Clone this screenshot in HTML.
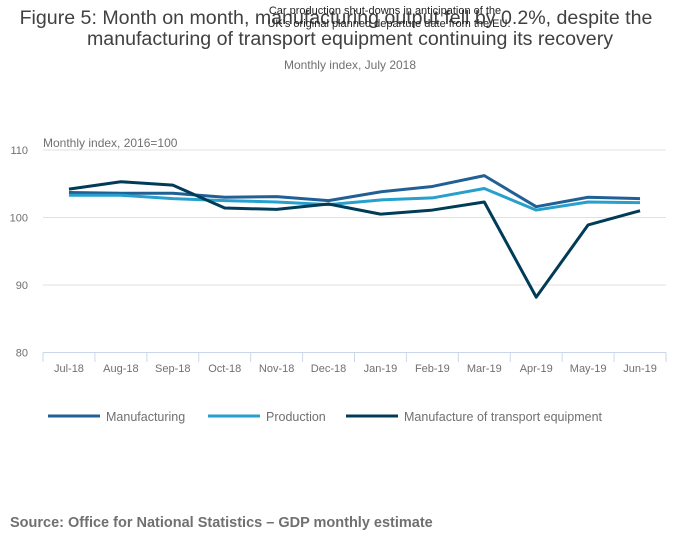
<!DOCTYPE html>
<html><head><meta charset="utf-8"><style>
body{margin:0;background:#fff;font-family:"Liberation Sans",sans-serif;}
svg text{font-family:"Liberation Sans",sans-serif;}
</style></head><body>
<svg width="700" height="549">
<text x="336" y="24" text-anchor="middle" font-size="19.6" fill="#414042">Figure 5: Month on month, manufacturing output fell by 0.2%, despite the</text>
<text x="350" y="45" text-anchor="middle" font-size="19.6" fill="#414042">manufacturing of transport equipment continuing its recovery</text>
<text x="350" y="69" text-anchor="middle" font-size="12" fill="#707070">Monthly index, July 2018</text>
<text x="385" y="14" text-anchor="middle" font-size="11" fill="#222">Car production shut-downs in anticipation of the</text>
<text x="389" y="27" text-anchor="middle" font-size="11" fill="#222">UK's original planned departure date from the EU.</text>
<text x="43" y="147" font-size="12" fill="#707070">Monthly index, 2016=100</text>
<g id="grid"></g><g id="xaxis"></g><g id="lines"></g>
<g>
<line x1="48" y1="416" x2="100" y2="416" stroke="#206095" stroke-width="3"/>
<text x="106" y="421" font-size="12.5" fill="#707070">Manufacturing</text>
<line x1="208" y1="416" x2="260" y2="416" stroke="#27a0cc" stroke-width="3"/>
<text x="266" y="421" font-size="12.5" fill="#707070">Production</text>
<line x1="346" y1="416" x2="398" y2="416" stroke="#003c57" stroke-width="3"/>
<text x="404" y="421" font-size="12.5" fill="#707070">Manufacture of transport equipment</text>
</g>
<text x="10" y="527" font-size="14.5" font-weight="bold" fill="#707070">Source: Office for National Statistics – GDP monthly estimate</text>
</svg>
<script>
const categories=["Jul-18","Aug-18","Sep-18","Oct-18","Nov-18","Dec-18","Jan-19","Feb-19","Mar-19","Apr-19","May-19","Jun-19"];
const manufacturing=[103.7,103.6,103.6,103.0,103.1,102.5,103.8,104.6,106.2,101.6,103.0,102.8];
const production=[103.3,103.3,102.8,102.5,102.3,101.9,102.6,102.9,104.3,101.1,102.3,102.2];
const transport=[104.2,105.3,104.8,101.4,101.2,102.0,100.5,101.1,102.3,88.2,98.9,101.0];
const yTicks=[80,90,100,110];
const NS="http://www.w3.org/2000/svg";
const x0=43,x1=666,bw=(x1-x0)/categories.length;
const xs=i=>x0+bw*(i+0.5);
const ys=v=>352.5-(v-80)*6.75;
function mk(t,a,p){const e=document.createElementNS(NS,t);for(const k in a)e.setAttribute(k,a[k]);p.appendChild(e);return e;}
const grid=document.getElementById('grid');
yTicks.forEach(v=>{
 if(v>80){const l=mk('line',{x1:x0,x2:x1,y1:ys(v),y2:ys(v),stroke:'#e0e0e0'},grid);
 
 }
 const t=mk('text',{x:28,y:ys(v)+4,'font-size':11,fill:'#707070','text-anchor':'end'},grid);
 t.textContent=v;
 
 
});
const xa=document.getElementById('xaxis');
mk('line',{x1:x0,x2:x1,y1:352.5,y2:352.5,stroke:'#ccd6eb'},xa);
categories.forEach((c,i)=>{
 const tk=mk('line',{x1:x0+bw*i,x2:x0+bw*i,y1:352.5,y2:362,stroke:'#ccd6eb'},xa);
 
 
 const t=mk('text',{x:xs(i),y:372,'font-size':11,fill:'#707070','text-anchor':'middle'},xa);
 t.textContent=c;
 
 
});
mk('line',{x1:x1,x2:x1,y1:352.5,y2:362,stroke:'#ccd6eb'},xa);
const lg=document.getElementById('lines');
[[manufacturing,'#206095','manufacturing-line'],[production,'#27a0cc','production-line'],[transport,'#003c57','transport-line']].forEach(([d,c,n])=>{
 const p=mk('path',{d:d.map((v,i)=>(i?'L':'M')+xs(i)+','+ys(v)).join(''),fill:'none',stroke:c,'stroke-width':3,'stroke-linejoin':'round'},lg);
 
 
});
</script>
</body></html>
